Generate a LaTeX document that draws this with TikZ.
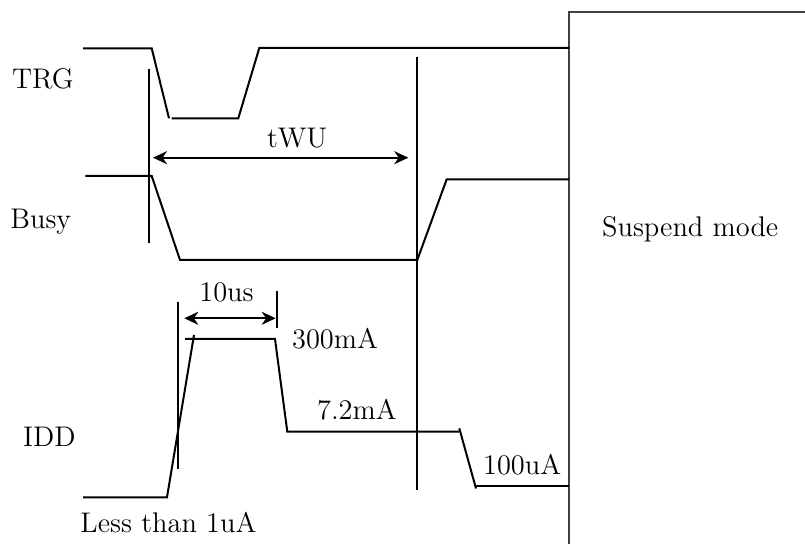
\documentclass[tikz,border=0pt]{standalone}
\usetikzlibrary{arrows.meta}
\begin{document}
\begin{tikzpicture}[x=0.5pt,y=-0.5pt,
  sig/.style={line width=1pt, line join=miter},
  guide/.style={line width=1pt},
  lbl/.style={inner sep=0pt, anchor=base west, font=\fontsize{14.2}{17}\selectfont},
  dimarrow/.style={line width=1pt, {Stealth[length=7pt,width=6.5pt,inset=2.2pt]}-{Stealth[length=7pt,width=6.5pt,inset=2.2pt]}},
  boxline/.style={line width=1pt, draw=black!75}]
\useasboundingbox (0,0) rectangle (805,544);
\clip (0,0) rectangle (805,544);

% Suspend mode box (open to the right and bottom)
\draw[boxline] (569.3,560) -- (569.3,12.3) -- (830,12.3);
\node[lbl] (susp) at (601.7,236.7) {Suspend mode};

% signal labels
\node[lbl] (trg)  at (11.7,88.3)  {TRG};
\node[lbl] (busy) at (10,228.3)   {Busy};
\node[lbl] (idd)  at (22.7,446.7) {IDD};

% TRG waveform
\draw[sig] (83,48.3) -- (151.7,48.3) -- (169,118.3);
\draw[sig] (171.7,118.3) -- (238.3,118.3) -- (259.3,48) -- (569.3,48);

% Busy waveform
\draw[sig] (85.3,176) -- (151.7,176) -- (180,260) -- (417.3,260) -- (446.7,179.3) -- (569.3,179.3);

% IDD waveform
\draw[sig] (83,497.3) -- (167,497.3) -- (194,335);
\draw[sig] (185,339) -- (275,339) -- (287.3,431.7) -- (459.3,431.7);
\draw[sig] (459.3,428.3) -- (476,488.5);
\draw[sig] (476,486) -- (569.3,486);

% vertical guide lines
\coordinate (v1t) at (149,69.3);   \coordinate (v1b) at (149,243.3);
\coordinate (v2t) at (417.3,56.7); \coordinate (v2b) at (417.3,490);
\coordinate (v3t) at (177.7,301.7);\coordinate (v3b) at (177.7,469.3);
\coordinate (v4t) at (276.7,290.7);\coordinate (v4b) at (276.7,328.3);
\draw[guide] (v1t) -- (v1b);
\draw[guide] (v2t) -- (v2b);
\draw[guide] (v3t) -- (v3b);
\draw[guide] (v4t) -- (v4b);

% dimension arrows
\coordinate (tw1) at (153,157.7);  \coordinate (tw2) at (408.3,157.7);
\draw[dimarrow] (tw1) -- (tw2);
\node[lbl] (twu) at (266.7,147.3) {tWU};

\coordinate (us1) at (184.3,318.3); \coordinate (us2) at (275.7,318.3);
\draw[dimarrow] (us1) -- (us2);
\node[lbl] (tenus) at (199,301.7) {10us};

% current labels
\node[lbl] (i300) at (291.7,348.3) {300mA};
\node[lbl] (i72)  at (316.7,420)   {7.2mA};
\node[lbl] (i100) at (482.7,475)   {100uA};
\node[lbl] (i1)   at (80,532.7)    {Less than 1uA};
\end{tikzpicture}
\end{document}
